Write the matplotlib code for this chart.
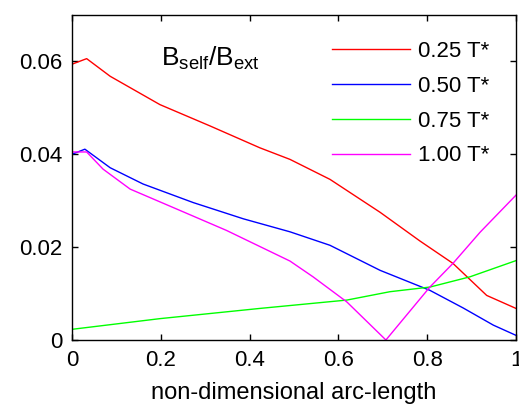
import numpy as np
import matplotlib.pyplot as plt

plt.rcParams['font.family'] = ['Liberation Sans', 'DejaVu Sans']
plt.rcParams['mathtext.fontset'] = 'custom'
plt.rcParams['mathtext.rm'] = 'Liberation Sans'

# B_self/B_ext along the arc for each temperature
s_025 = [0.0, 0.033, 0.086, 0.198, 0.311, 0.423, 0.491, 0.581, 0.694, 0.784, 0.858, 0.934, 1.0]
b_025 = [0.0594, 0.0606, 0.0568, 0.0507, 0.0461, 0.0414, 0.0389, 0.0346, 0.0275, 0.0213, 0.0165, 0.0096, 0.0068]

s_050 = [0.0, 0.029, 0.086, 0.16, 0.273, 0.386, 0.491, 0.581, 0.694, 0.806, 0.881, 0.949, 1.0]
b_050 = [0.0400, 0.0411, 0.0371, 0.0336, 0.0296, 0.0261, 0.0233, 0.0204, 0.0150, 0.0107, 0.0069, 0.0032, 0.0010]

s_075 = [0.0, 0.198, 0.423, 0.619, 0.716, 0.806, 0.896, 1.0]
b_075 = [0.0023, 0.0046, 0.0068, 0.0086, 0.0104, 0.0114, 0.0136, 0.0171]

s_100 = [0.0, 0.033, 0.07, 0.131, 0.236, 0.348, 0.491, 0.543, 0.619, 0.707, 0.806, 0.858, 0.919, 1.0]
b_100 = [0.0405, 0.0405, 0.0368, 0.0325, 0.0282, 0.0236, 0.0170, 0.0136, 0.0082, 0.0, 0.0114, 0.0165, 0.0232, 0.0312]

labels = ['0.25 T*', '0.50 T*', '0.75 T*', '1.00 T*']
colors = ['#ff0000', '#0000ff', '#00ff00', '#ff00ff']

fig = plt.figure(figsize=(5.19, 4.08), dpi=100)
ax = fig.add_axes([72 / 519, 1 - 340 / 408, 444 / 519, 325 / 408])

for s, b, lab, c in zip([s_025, s_050, s_075, s_100], [b_025, b_050, b_075, b_100], labels, colors):
    ax.plot(s, b, color=c, lw=1.0, label=lab)

ax.set_xlim(0, 1)
ax.set_ylim(0, 0.07)
ax.set_xticks([0, 0.2, 0.4, 0.6, 0.8, 1])
ax.set_xticklabels(['0', '0.2', '0.4', '0.6', '0.8', '1'])
ax.set_yticks([0, 0.02, 0.04, 0.06])
ax.set_yticklabels(['0', '0.02', '0.04', '0.06'])
ax.tick_params(direction='in', length=4, width=1, top=True, right=True, labelsize=16, pad=7)
for sp in ax.spines.values():
    sp.set_linewidth(1.0)

ax.set_xlabel('non-dimensional arc-length', fontsize=17, labelpad=8)
ax.text(0.2, 0.0607, r'$\mathrm{B_{self}/B_{ext}}$', fontsize=19, va='center', ha='left')

ax.legend(loc='upper left', bbox_to_anchor=(0.586, 0.92), frameon=False, fontsize=16,
          handlelength=3.5, handletextpad=0.35, labelspacing=0.62, borderpad=0, borderaxespad=0)

fig.savefig('out.png', dpi=100)
